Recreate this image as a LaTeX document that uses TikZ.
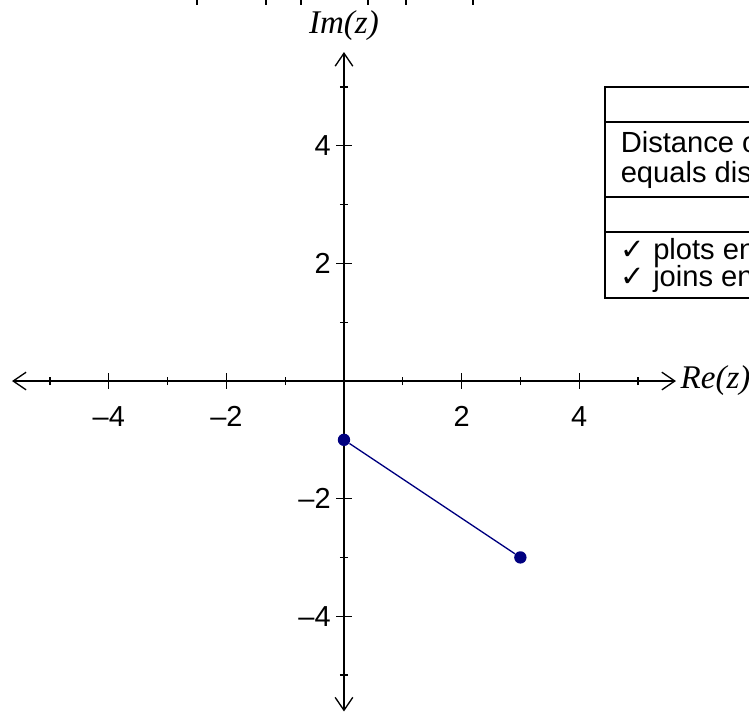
\documentclass[tikz,border=0pt]{standalone}
\usepackage{fontspec}
\setmainfont{Liberation Sans}
\newfontfamily\axisfont{Liberation Serif}
\newfontfamily\checkfont{DejaVu Sans}
\usetikzlibrary{arrows.meta, positioning}
\definecolor{segblue}{RGB}{0,0,128}

\begin{document}
\begin{tikzpicture}[
        axis/.style={line width=0.65pt, {Straight Barb[length=0.22cm, width=0.3cm]}-{Straight Barb[length=0.22cm, width=0.3cm]}},
        tick/.style={line width=0.6pt},
        ticklabel/.style={font=\fontsize{14}{16}\selectfont, inner sep=0pt},
        axislabel/.style={font=\axisfont\itshape\fontsize{16}{18}\selectfont, inner sep=0pt},
        tabline/.style={line width=1pt},
        tabtext/.style={font=\fontsize{14.1}{17}\selectfont, anchor=base west, inner sep=0pt},
        endpoint/.style={circle, fill=segblue, inner sep=0pt, minimum size=0.21cm},
        segment/.style={segblue, line width=0.65pt}
    ]

    \useasboundingbox (-5.85,-5.612) rectangle (6.888,6.48);
    \clip (-5.85,-5.612) rectangle (6.888,6.48);

    % stubs left at the top edge
    \foreach \x in {-2.50,-1.327,-0.731,0.408,1.054,2.194}
        \draw[tick] (\x,6.48) -- (\x,6.39);

    % table, cut at the right edge
    \draw[tabline] (7.2,5.0) -- (4.439,5.0) -- (4.439,1.41) -- (7.2,1.41);
    \foreach \y in {4.405,3.129,2.534}
        \draw[tabline] (4.439,\y) -- (7.2,\y);
    \node[tabtext] (dist)  at (4.70,3.895) {Distance o};
    \node[tabtext] (equal) at (4.70,3.37)  {equals dis};
    \node[tabtext] (plots) at (4.70,2.07)  {{\checkfont ✓} plots en};
    \node[tabtext] (joins) at (4.70,1.60)  {{\checkfont ✓} joins en};

    % axes
    \coordinate (xmin) at (-5.646,0);
    \coordinate (xmax) at (5.646,0);
    \coordinate (ymin) at (0,-5.62);
    \coordinate (ymax) at (0,5.595);
    \draw[axis] (xmin) -- (xmax);
    \draw[axis] (ymin) -- (ymax);
    \node[axislabel, anchor=west] (re) at (5.72,0) {Re(z)};
    \node[axislabel] (im) at (0,6.05) {Im(z)};

    \foreach \t in {-5,-3,-1,1,3,5} {
        \draw[tick] (\t,-0.07) -- (\t,0.07);
        \draw[tick] (-0.07,\t) -- (0.07,\t);
    }
    \foreach \t/\s in {-4/\textendash4, -2/\textendash2, 2/2, 4/4} {
        \draw[tick] (\t,-0.13) -- (\t,0.13);
        \draw[tick] (-0.13,\t) -- (0.13,\t);
        \node[ticklabel] (xl\t) at (\t,-0.6) {\s};
        \node[ticklabel, anchor=east] (yl\t) at (-0.22,\t) {\s};
    }

    % the segment
    \node[endpoint] (a) at (0,-1) {};
    \node[endpoint] (b) at (3,-3) {};
    \draw[segment] (a) -- (b);

\end{tikzpicture}
\end{document}
